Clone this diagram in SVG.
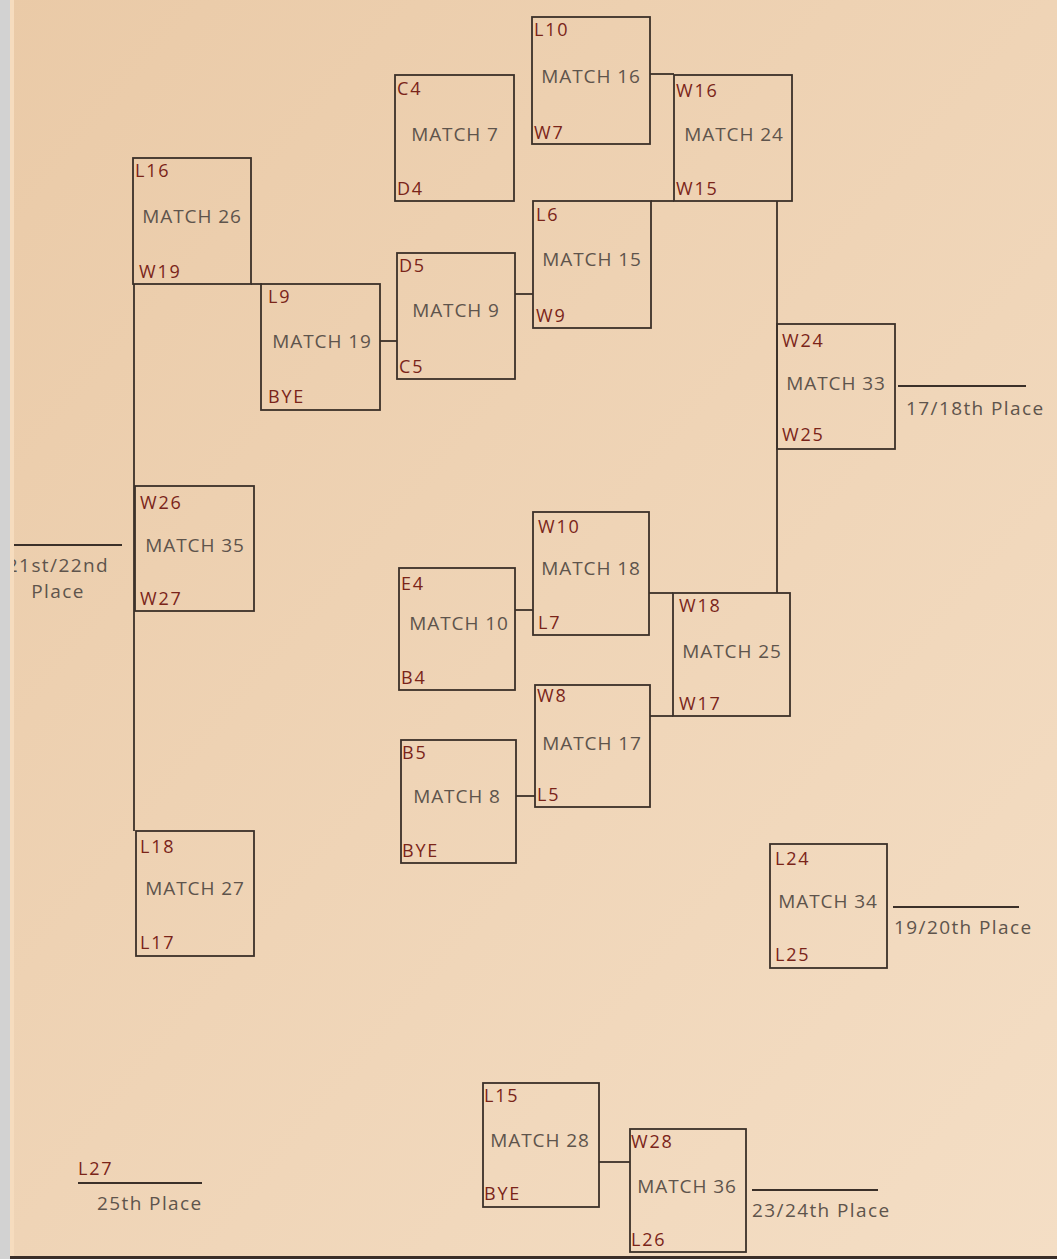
<svg xmlns="http://www.w3.org/2000/svg" width="1057" height="1259" viewBox="0 0 1057 1259">
<defs>
<linearGradient id="paper" x1="0" y1="0" x2="1" y2="1">
<stop offset="0" stop-color="#eacaa7"/>
<stop offset="0.5" stop-color="#efd4b6"/>
<stop offset="1" stop-color="#f4dec5"/>
</linearGradient>
<style>
.box{fill:none;stroke:#3b3029;stroke-width:1.8}
.ln{fill:none;stroke:#3b3029;stroke-width:1.8}
.m{font-family:"Open Sans","Noto Sans",sans-serif;font-size:19px;letter-spacing:0.9px;fill:#5e544c;text-anchor:middle}
.t{font-family:"Open Sans","Noto Sans",sans-serif;font-size:18px;letter-spacing:1.8px;fill:#7a2419}
.p{font-family:"Open Sans","Noto Sans",sans-serif;font-size:19px;letter-spacing:1.4px;fill:#5e544c}
</style>
</defs>
<rect x="0" y="0" width="1057" height="1259" fill="url(#paper)"/>

<g id="connectors">
<path class="ln" d="M251 284 H262"/>
<path class="ln" d="M134 284 V831"/>
<path class="ln" d="M380 341 H397"/>
<path class="ln" d="M515 294 H533"/>
<path class="ln" d="M650 74 H674"/>
<path class="ln" d="M651 201 H674"/>
<path class="ln" d="M777 201 V593"/>
<path class="ln" d="M649 593 H673"/>
<path class="ln" d="M650 716 H673"/>
<path class="ln" d="M515 610 H533"/>
<path class="ln" d="M516 796 H535"/>
<path class="ln" d="M599 1162 H630"/>
<path class="ln" d="M898 386 H1026"/>
<path class="ln" d="M893 907 H1019"/>
<path class="ln" d="M10 545 H122"/>
<path class="ln" d="M752 1190 H878"/>
<path class="ln" d="M78 1183 H202"/>
</g>

<g id="match7"><rect class="box" x="395" y="75" width="119" height="126"/><text class="t" x="397" y="95">C4</text><text class="m" x="455" y="141">MATCH 7</text><text class="t" x="397" y="195">D4</text></g>
<g id="match16"><rect class="box" x="532" y="17" width="118" height="127"/><text class="t" x="534" y="36">L10</text><text class="m" x="591" y="83">MATCH 16</text><text class="t" x="534" y="139">W7</text></g>
<g id="match24"><rect class="box" x="674" y="75" width="118" height="126"/><text class="t" x="676" y="97">W16</text><text class="m" x="734" y="141">MATCH 24</text><text class="t" x="676" y="195">W15</text></g>
<g id="match26"><rect class="box" x="133" y="158" width="118" height="126"/><text class="t" x="135" y="177">L16</text><text class="m" x="192" y="223">MATCH 26</text><text class="t" x="139" y="278">W19</text></g>
<g id="match15"><rect class="box" x="533" y="201" width="118" height="127"/><text class="t" x="536" y="221">L6</text><text class="m" x="592" y="266">MATCH 15</text><text class="t" x="536" y="322">W9</text></g>
<g id="match9"><rect class="box" x="397" y="253" width="118" height="126"/><text class="t" x="399" y="272">D5</text><text class="m" x="456" y="317">MATCH 9</text><text class="t" x="399" y="373">C5</text></g>
<g id="match19"><rect class="box" x="261" y="284" width="119" height="126"/><text class="t" x="268" y="303">L9</text><text class="m" x="322" y="348">MATCH 19</text><text class="t" x="268" y="403">BYE</text></g>
<g id="match33"><rect class="box" x="777" y="324" width="118" height="125"/><text class="t" x="782" y="347">W24</text><text class="m" x="836" y="390">MATCH 33</text><text class="t" x="782" y="441">W25</text></g>
<g id="match35"><rect class="box" x="135" y="486" width="119" height="125"/><text class="t" x="140" y="509">W26</text><text class="m" x="195" y="552">MATCH 35</text><text class="t" x="140" y="605">W27</text></g>
<g id="match18"><rect class="box" x="533" y="512" width="116" height="123"/><text class="t" x="538" y="533">W10</text><text class="m" x="591" y="575">MATCH 18</text><text class="t" x="538" y="629">L7</text></g>
<g id="match10"><rect class="box" x="399" y="568" width="116" height="122"/><text class="t" x="401" y="590">E4</text><text class="m" x="459" y="630">MATCH 10</text><text class="t" x="401" y="684">B4</text></g>
<g id="match25"><rect class="box" x="673" y="593" width="117" height="123"/><text class="t" x="679" y="612">W18</text><text class="m" x="732" y="658">MATCH 25</text><text class="t" x="679" y="710">W17</text></g>
<g id="match17"><rect class="box" x="535" y="685" width="115" height="122"/><text class="t" x="537" y="702">W8</text><text class="m" x="592" y="750">MATCH 17</text><text class="t" x="537" y="801">L5</text></g>
<g id="match8"><rect class="box" x="401" y="740" width="115" height="123"/><text class="t" x="402" y="759">B5</text><text class="m" x="457" y="803">MATCH 8</text><text class="t" x="402" y="857">BYE</text></g>
<g id="match34"><rect class="box" x="770" y="844" width="117" height="124"/><text class="t" x="775" y="865">L24</text><text class="m" x="828" y="908">MATCH 34</text><text class="t" x="775" y="961">L25</text></g>
<g id="match27"><rect class="box" x="136" y="831" width="118" height="125"/><text class="t" x="140" y="853">L18</text><text class="m" x="195" y="895">MATCH 27</text><text class="t" x="140" y="949">L17</text></g>
<g id="match28"><rect class="box" x="483" y="1083" width="116" height="124"/><text class="t" x="484" y="1102">L15</text><text class="m" x="540" y="1147">MATCH 28</text><text class="t" x="484" y="1200">BYE</text></g>
<g id="match36"><rect class="box" x="630" y="1129" width="116" height="123"/><text class="t" x="631" y="1148">W28</text><text class="m" x="687" y="1193">MATCH 36</text><text class="t" x="631" y="1246">L26</text></g>

<g id="places">
<text class="p" x="906" y="415">17/18th Place</text>
<text class="p" x="894" y="934">19/20th Place</text>
<text class="p" x="752" y="1217">23/24th Place</text>
<text class="p" x="97" y="1210">25th Place</text>
<text class="t" x="78" y="1175">L27</text>
<text class="p" x="109" y="572" text-anchor="end">21st/22nd</text>
<text class="p" x="58" y="598" text-anchor="middle">Place</text>
</g>

<rect x="10" y="0" width="4" height="1259" fill="#f6dcbe"/>
<rect x="0" y="0" width="10" height="1259" fill="#d2d2d2"/>
<rect x="10" y="1256" width="1047" height="3" fill="#3a2e28"/>
</svg>
